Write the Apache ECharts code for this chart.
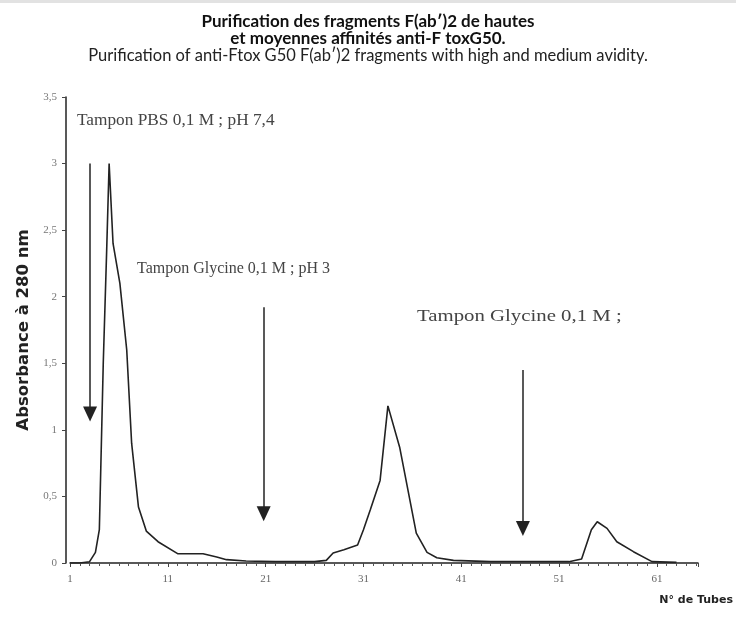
<!DOCTYPE html>
<html>
<head>
<meta charset="utf-8">
<script src="https://cdn.jsdelivr.net/npm/echarts@6/dist/echarts.min.js"></script>
<style>
  html, body { margin: 0; padding: 0; background: #fff; }
  #chart { width: 736px; height: 617px; }
</style>
</head>
<body>
<div id="chart"></div>
<script>
// N° de tube / absorbance
var tubes = [1, 2, 3, 3.6, 4, 4.4, 4.75, 5, 5.4, 6.1, 6.8, 7.3, 8, 8.8, 10, 12, 14.6, 16, 17, 19, 22, 26,
  27.2, 27.9, 29, 30.4, 31, 31.7, 32.7, 33.5, 34.7, 36.4, 37.5, 38.5, 40.2, 44,
  52, 53.3, 54.3, 54.9, 55.9, 56.9, 58.6, 60.5, 63]
var absorbance = [0, 0, 0.01, 0.08, 0.25, 1.5, 2.35, 3.0, 2.4, 2.1, 1.6, 0.9, 0.42, 0.24, 0.16, 0.07, 0.07, 0.045, 0.025, 0.015, 0.01, 0.01,
  0.02, 0.075, 0.1, 0.135, 0.25, 0.4, 0.62, 1.18, 0.87, 0.225, 0.08, 0.04, 0.02, 0.01,
  0.01, 0.03, 0.25, 0.31, 0.26, 0.16, 0.085, 0.01, 0.005]
var xTicks = [1, 11, 21, 31, 41, 51, 61]
// flèches : [tube, début, fin]
var arrows = [[3.05, 3.0, 1.12], [20.8, 1.92, 0.37], [47.3, 1.45, 0.26]]

var chart = echarts.init(document.getElementById('chart'))

var serif = '"Liberation Serif", "DejaVu Serif", serif'
var sans = 'Lato, "Liberation Sans", sans-serif'
var boldSans = '"DejaVu Sans", "Liberation Sans", sans-serif'

chart.setOption({
  animation: false,
  grid: { left: 70, right: 38, top: 97, bottom: 54 },
  xAxis: {
    type: 'value',
    min: 1,
    max: 65.2,
    interval: 10,
    axisLine: { lineStyle: { color: '#222', width: 1.5 } },
    axisTick: { show: true, length: 4, lineStyle: { color: '#444' } },
    minorTick: { show: true, splitNumber: 10, length: 3, lineStyle: { color: '#555' } },
    splitLine: { show: false },
    axisLabel: {
      color: '#666',
      fontFamily: serif,
      fontSize: 11,
      margin: 11,
      formatter: function (v) {
        return xTicks.indexOf(v) >= 0 ? String(v) : ''
      }
    }
  },
  yAxis: {
    type: 'value',
    min: 0,
    max: 3.5,
    interval: 0.5,
    offset: 4,
    name: 'Absorbance à 280 nm',
    nameLocation: 'middle',
    nameGap: 34,
    nameTextStyle: { fontFamily: boldSans, fontWeight: 'bold', fontSize: 16.5, color: '#222' },
    axisLine: { show: true, lineStyle: { color: '#222', width: 1.5 } },
    axisTick: { show: true, length: 4, lineStyle: { color: '#444' } },
    splitLine: { show: false },
    axisLabel: {
      color: '#777',
      fontFamily: serif,
      fontSize: 11,
      margin: 9,
      formatter: function (v) { return String(v).replace('.', ',') }
    }
  },
  graphic: [
    { type: 'rect', left: 0, top: 0, shape: { width: 736, height: 3 }, style: { fill: '#e2e2e2' } },
    { type: 'text', left: 'center', top: 13, style: { text: 'Purification des fragments F(ab′)2 de hautes', font: 'bold 17px ' + sans, fill: '#111' } },
    { type: 'text', left: 'center', top: 30, style: { text: 'et moyennes affinités anti-F toxG50.', font: 'bold 17px ' + sans, fill: '#111' } },
    { type: 'text', left: 'center', top: 47, style: { text: 'Purification of anti-Ftox G50 F(ab′)2 fragments with high and medium avidity.', font: '16.5px ' + sans, fill: '#222' } },
    { type: 'text', x: 77, y: 113, scaleX: 1.08, style: { text: 'Tampon PBS 0,1 M ; pH 7,4', font: '16px ' + serif, fill: '#444' } },
    { type: 'text', x: 137, y: 261, style: { text: 'Tampon Glycine 0,1 M ; pH 3', font: '16px ' + serif, fill: '#444' } },
    { type: 'text', x: 417, y: 309, scaleX: 1.3, style: { text: 'Tampon Glycine 0,1 M ;', font: '16px ' + serif, fill: '#444' } },
    { type: 'text', right: 3, top: 595, style: { text: 'N° de Tubes', font: 'bold 11px ' + boldSans, fill: '#222' } }
  ],
  series: [
    {
      type: 'line',
      data: tubes.map(function (t, i) { return [t, absorbance[i]] }),
      showSymbol: false,
      lineStyle: { color: '#222', width: 1.6 },
      markLine: {
        silent: true,
        symbol: ['none', 'triangle'],
        symbolSize: [14, 15],
        label: { show: false },
        lineStyle: { color: '#222', width: 1.5, type: 'solid' },
        data: arrows.map(function (a) {
          return [{ coord: [a[0], a[1]] }, { coord: [a[0], a[2]] }]
        })
      }
    }
  ]
})
</script>
</body>
</html>
